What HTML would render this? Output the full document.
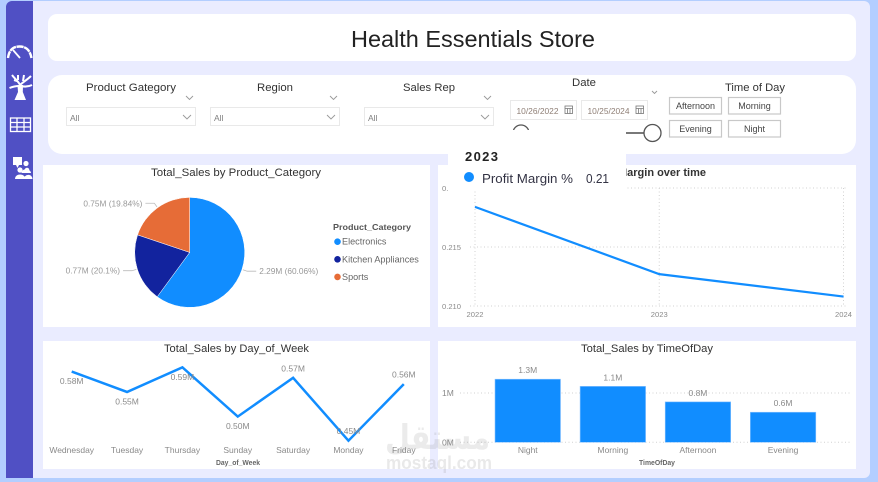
<!DOCTYPE html>
<html lang="en">
<head>
<meta charset="utf-8">
<title>Health Essentials Store</title>
<style>
html,body{margin:0;padding:0;width:878px;height:482px;overflow:hidden;background:#b3ceff}
svg{display:block;font-family:"Liberation Sans","DejaVu Sans",sans-serif}
.grid{stroke:#d2d2d2;stroke-width:1;stroke-dasharray:1 2.5;fill:none}
.tick{fill:#8a8a8a;font-size:8.5px}
.ctitle{fill:#333;font-size:11px}
.axt{fill:#666;font-size:7px;font-weight:bold}
.slab{fill:#333;font-size:11px}
.box{fill:#fff;stroke:#e9e9e9;stroke-width:1}
.chev{fill:none;stroke:#999;stroke-width:.9}
.btn{fill:#fff;stroke:#c8c8c8;stroke-width:1.2;cursor:pointer}
.btxt{fill:#444;font-size:9px;text-anchor:middle}
.all{fill:#808080;font-size:8.5px}
.dt{fill:#8f7f76;font-size:8.5px}
.cal{fill:none;stroke:#777;stroke-width:.8}
</style>
</head>
<body>
<svg id="dash" xmlns="http://www.w3.org/2000/svg" width="878" height="482" viewBox="0 0 878 482">
  <rect width="878" height="482" fill="#b3ceff"/>
  <rect x="20" y="1" width="850" height="477" rx="6" fill="#eaecff"/>
  <path d="M33 1V478H6V7a6 6 0 0 1 6-6Z" fill="#5050c4"/>

  <g fill="none" stroke="#fff">
    <path d="M8 58C9 50 13 46.500 19.500 46.500S30 50 31.500 58" stroke-width="2.400" stroke-dasharray="7 .6"/>
    <path d="M13 50L20 58" stroke-width="1.800"/>
  </g>
  <g fill="none" stroke="#fff" stroke-width="2">
    <path d="M19.500 93C20 90 20 88 20 85C19 82 15 79 12 75M20 85C23 82 27 80 31 76M19 86C15 86 12 87 9.500 88M21 86C25 87 28 87 32 85M17 81L14 80M23 81L24 75M18 80L18 75"/>
    <path d="M14.500 100H26L22.800 92 23 85H17.500L18 92Z" fill="#fff" stroke="none"/>
  </g>
  <g fill="none" stroke="#fff" stroke-width="1.300">
    <rect x="10.500" y="118" width="20" height="13.500"/>
    <path d="M10.500 122.500H30.500M10.500 127H30.500M17 118V131.500M24 118V131.500"/>
  </g>
  <g fill="#fff">
    <rect x="13" y="157" width="9" height="8"/>
    <path d="M16 165h3l-1.500 3z"/>
    <circle cx="26" cy="163.500" r="2.600"/><path d="M21.500 173c0-5 9-5 9.500 0z"/>
    <circle cx="20" cy="170" r="2.600"/><path d="M15 179c0-6 10-6 10.500 0z"/>
    <circle cx="27" cy="170" r="2.300"/><path d="M24 179c0-5 8-6 8.500 0z"/>
  </g>

  <rect x="48" y="14" width="808" height="47" rx="9" fill="#fff"/>
  <text x="351" y="47" font-size="23" fill="#222" textLength="244" lengthAdjust="spacingAndGlyphs">Health Essentials Store</text>

  <rect x="48" y="75" width="808" height="79" rx="14" fill="#fff"/>
  <text class="slab" x="86" y="91" textLength="90" lengthAdjust="spacingAndGlyphs">Product Gategory</text>
  <text class="slab" x="257" y="91" textLength="36" lengthAdjust="spacingAndGlyphs">Region</text>
  <text class="slab" x="403" y="91" textLength="52" lengthAdjust="spacingAndGlyphs">Sales Rep</text>
  <path class="chev" d="M186 96l3.500 3.500 3.500-3.500"/>
  <path class="chev" d="M330 96l3.500 3.500 3.500-3.500"/>
  <path class="chev" d="M484 96l3.500 3.500 3.500-3.500"/>

  <g>
    <rect class="box" x="66.500" y="107.500" width="129" height="18"/>
    <text class="all" x="70" y="121">All</text>
    <path class="chev" d="M183 115l4 4 4-4"/>
  </g>
  <g>
    <rect class="box" x="210.500" y="107.500" width="129" height="18"/>
    <text class="all" x="214" y="121">All</text>
    <path class="chev" d="M327 115l4 4 4-4"/>
  </g>
  <g>
    <rect class="box" x="364.500" y="107.500" width="129" height="18"/>
    <text class="all" x="368" y="121">All</text>
    <path class="chev" d="M481 115l4 4 4-4"/>
  </g>

  <text class="slab" x="572" y="86" font-size="10.500" textLength="24" lengthAdjust="spacingAndGlyphs">Date</text>
  <path class="chev" d="M652 91l2.500 2.500 2.500-2.500"/>
  <g>
    <rect class="box" x="510.500" y="100.500" width="66" height="19"/>
    <text class="dt" x="516.500" y="114" textLength="42" lengthAdjust="spacingAndGlyphs">10/26/2022</text>
    <rect class="cal" x="565" y="106" width="7.500" height="7.500"/><path class="cal" d="M565 108.500h7.500M567.500 108.500v5M570 108.500v5"/>
  </g>
  <g>
    <rect class="box" x="581.500" y="100.500" width="66" height="19"/>
    <text class="dt" x="587.500" y="114" textLength="42" lengthAdjust="spacingAndGlyphs">10/25/2024</text>
    <rect class="cal" x="636" y="106" width="7.500" height="7.500"/><path class="cal" d="M636 108.500h7.500M638.500 108.500v5M641 108.500v5"/>
  </g>
  <circle cx="521" cy="133" r="8" fill="#fff" stroke="#555" stroke-width="1.300"/>
  <path d="M521 133H645" stroke="#666" stroke-width="1.800" fill="none"/>
  <circle cx="652.500" cy="133" r="8.500" fill="#fff" stroke="#555" stroke-width="1.300"/>

  <text class="slab" x="725" y="91" font-size="10.500" textLength="60" lengthAdjust="spacingAndGlyphs">Time of Day</text>
  <g><rect class="btn" x="669.500" y="97.500" width="52" height="16.500"/><text class="btxt" x="695.500" y="109">Afternoon</text></g>
  <g><rect class="btn" x="728.500" y="97.500" width="52" height="16.500"/><text class="btxt" x="754.500" y="109">Morning</text></g>
  <g><rect class="btn" x="669.500" y="120.500" width="52" height="16.500"/><text class="btxt" x="695.500" y="132">Evening</text></g>
  <g><rect class="btn" x="728.500" y="120.500" width="52" height="16.500"/><text class="btxt" x="754.500" y="132">Night</text></g>

  <g>
    <rect x="43" y="165" width="387" height="162" fill="#fff"/>
    <text class="ctitle" x="151" y="176" textLength="170" lengthAdjust="spacingAndGlyphs">Total_Sales by Product_Category</text>
    <g id="pie"></g>
    <text x="333" y="230" font-size="8.500" font-weight="bold" fill="#555" textLength="78" lengthAdjust="spacingAndGlyphs">Product_Category</text>
    <g id="pieLegend"></g>
  </g>

  <g>
    <rect x="438" y="165" width="418" height="162" fill="#fff"/>
    <text x="706" y="176" text-anchor="end" font-size="11" font-weight="bold" fill="#333">Profit Margin over time</text>
    <g id="margin"></g>
  </g>

  <g>
    <rect x="43" y="341" width="387" height="128" fill="#fff"/>
    <text class="ctitle" x="164" y="352" textLength="145" lengthAdjust="spacingAndGlyphs">Total_Sales by Day_of_Week</text>
    <g id="day"></g>
    <text class="axt" x="216" y="465" textLength="44" lengthAdjust="spacingAndGlyphs">Day_of_Week</text>
  </g>

  <g>
    <rect x="438" y="341" width="418" height="128" fill="#fff"/>
    <text class="ctitle" x="581" y="352" textLength="132" lengthAdjust="spacingAndGlyphs">Total_Sales by TimeOfDay</text>
    <g id="bars"></g>
    <text class="axt" x="639" y="465" textLength="36" lengthAdjust="spacingAndGlyphs">TimeOfDay</text>
  </g>

  <g>
    <rect x="448" y="130" width="178" height="61" fill="#fff"/>
    <text x="465" y="161" font-size="13" font-weight="bold" fill="#222" textLength="33" lengthAdjust="spacing">2023</text>
    <circle cx="469" cy="177" r="5" fill="#118dff"/>
    <text x="482" y="183" font-size="13" fill="#334" textLength="91" lengthAdjust="spacingAndGlyphs">Profit Margin %</text>
    <text x="586" y="183" font-size="13" fill="#334" textLength="23" lengthAdjust="spacingAndGlyphs">0.21</text>
  </g>

  <g>
    <text x="385" y="449" font-family="'DejaVu Sans',sans-serif" font-size="34" font-weight="bold" fill="#777" opacity=".14" textLength="105" lengthAdjust="spacingAndGlyphs">مستقل</text>
    <text x="386" y="469" font-size="18" font-weight="bold" fill="#888" opacity=".18" textLength="106" lengthAdjust="spacingAndGlyphs">mostaql.com</text>
  </g>
</svg>

<script>
const pieCategories = ['Electronics', 'Kitchen Appliances', 'Sports'];
const pieValues = [60.06, 20.1, 19.84];
const pieLabels = ['2.29M (60.06%)', '0.77M (20.1%)', '0.75M (19.84%)'];
const pieColors = ['#118dff', '#12239e', '#e66c37'];

const marginYears = ['2022', '2023', '2024'];
const marginValues = [0.2184, 0.2127, 0.2108];
const marginTicks = [0.210, 0.215, 0.220];
const marginTickLabels = ['0.210', '0.215', '0.'];

const dayNames = ['Wednesday', 'Tuesday', 'Thursday', 'Sunday', 'Saturday', 'Monday', 'Friday'];
const dayValues = [0.582, 0.543, 0.59, 0.496, 0.57, 0.45, 0.558];
const dayLabels = ['0.58M', '0.55M', '0.59M', '0.50M', '0.57M', '0.45M', '0.56M'];
const dayLabelSides = ['below', 'below', 'below', 'below', 'above', 'above', 'above'];

const timeNames = ['Night', 'Morning', 'Afternoon', 'Evening'];
const timeValues = [1.28, 1.135, 0.82, 0.61];
const timeLabels = ['1.3M', '1.1M', '0.8M', '0.6M'];
const timeTicks = [0, 1];
const timeTickLabels = ['0M', '1M'];

const NS = 'http://www.w3.org/2000/svg';
function make(parent, tag, attrs, content) {
  const n = document.createElementNS(NS, tag);
  for (const k in attrs) n.setAttribute(k, attrs[k]);
  if (content !== undefined) n.textContent = content;
  parent.appendChild(n);
  return n;
}

/* Pie chart */
(function () {
  const g = document.getElementById('pie');
  const lg = document.getElementById('pieLegend');
  const cx = 189.7, cy = 252.4, r = 55;
  const total = pieValues.reduce((a, b) => a + b, 0);
  let start = 0;
  pieValues.forEach((v, i) => {
    const sweep = v / total * Math.PI * 2;
    const end = start + sweep;
    const mid = start + sweep / 2;
    const pt = (a, rad) => [cx + Math.sin(a) * rad, cy - Math.cos(a) * rad];
    const [x0, y0] = pt(start, r);
    const [x1, y1] = pt(end, r);
    const slice = make(g, 'path', {
      d: `M${cx} ${cy}L${x0} ${y0}A${r} ${r} 0 ${sweep > Math.PI ? 1 : 0} 1 ${x1} ${y1}Z`,
      fill: pieColors[i], stroke: '#fff', 'stroke-width': 0.5
    });
    
    
    const right = Math.sin(mid) > 0;
    const [ax, ay] = pt(mid, r + 1);
    const [bx, by] = pt(mid, r * 1.1);
    const ex = bx + (right ? 9 : -9);
    const leader = make(g, 'path', {
      d: `M${ax} ${ay}L${bx} ${by}L${ex} ${by}`, fill: 'none', stroke: '#bbb', 'stroke-width': 0.8
    });
    
    
    const label = make(g, 'text', {
      x: ex + (right ? 3 : -3), y: by + 3, 'font-size': 8.3, fill: '#999',
      'text-anchor': right ? 'start' : 'end'
    }, pieLabels[i]);
    
    
    start = end;

    const ly = 241.7 + i * 17.6;
    const dot = make(lg, 'circle', { cx: 337.5, cy: ly, r: 3.3, fill: pieColors[i] });
    
    
    const entry = make(lg, 'text', { x: 342, y: ly + 3, 'font-size': 9.1, fill: '#666' }, pieCategories[i]);
    
    
  });
})();

/* Profit margin line chart */
(function () {
  const g = document.getElementById('margin');
  const x = i => 475 + i * (843.5 - 475) / (marginYears.length - 1);
  const y = v => 306 - (v - 0.210) / 0.005 * 59;
  marginTicks.forEach((t, i) => {
    const line = make(g, 'line', { class: 'grid', x1: 470, x2: 848, y1: y(t), y2: y(t) });
    
    
    const lab = make(g, 'text', { x: 442, y: y(t) + 3, 'font-size': 7.6, fill: '#8a8a8a' }, marginTickLabels[i]);
    
    
  });
  marginYears.forEach((yr, i) => {
    const line = make(g, 'line', { class: 'grid', x1: x(i), x2: x(i), y1: y(0.220), y2: y(0.210) });
    
    
    const lab = make(g, 'text', { x: x(i), y: 317, 'font-size': 7.6, fill: '#8a8a8a', 'text-anchor': 'middle' }, yr);
    
    
  });
  const path = make(g, 'polyline', {
    points: marginValues.map((v, i) => x(i) + ',' + y(v)).join(' '),
    fill: 'none', stroke: '#118dff', 'stroke-width': 2.2
  });
  
  
})();

/* Day of week line chart */
(function () {
  const g = document.getElementById('day');
  const x = i => 71.7 + i * 55.35;
  const y = v => 440.7 - (v - 0.45) * 524;
  dayNames.forEach((d, i) => {
    const lab = make(g, 'text', { class: 'tick', x: x(i), y: 453, 'text-anchor': 'middle' }, d);
    
    
  });
  const path = make(g, 'polyline', {
    points: dayValues.map((v, i) => x(i) + ',' + y(v)).join(' '),
    fill: 'none', stroke: '#118dff', 'stroke-width': 2.5
  });
  
  
  dayValues.forEach((v, i) => {
    const off = dayLabelSides[i] === 'below' ? 12.5 : -6.5;
    const lab = make(g, 'text', { class: 'tick', x: x(i), y: y(v) + off, 'text-anchor': 'middle' }, dayLabels[i]);
    
    
  });
})();

/* Time of day bar chart */
(function () {
  const g = document.getElementById('bars');
  const x = i => 495 + i * 85.1;
  const w = 65.5;
  const y = v => 442.3 - v * 49.3;
  timeTicks.forEach((t, i) => {
    const line = make(g, 'line', { class: 'grid', x1: 460, x2: 851, y1: y(t), y2: y(t) });
    
    
    const lab = make(g, 'text', { class: 'tick', x: 442, y: y(t) + 3 }, timeTickLabels[i]);
    
    
  });
  timeValues.forEach((v, i) => {
    const bar = make(g, 'rect', {
      x: x(i), y: y(v), width: w, height: y(0) - y(v),
      fill: '#118dff', stroke: '#8cc4ff', 'stroke-width': 0.6
    });
    
    
    const val = make(g, 'text', { class: 'tick', x: x(i) + w / 2, y: y(v) - 6, 'text-anchor': 'middle' }, timeLabels[i]);
    
    
    const lab = make(g, 'text', { class: 'tick', x: x(i) + w / 2, y: 453, 'text-anchor': 'middle' }, timeNames[i]);
    
    
  });
})();
</script>
</body>
</html>
